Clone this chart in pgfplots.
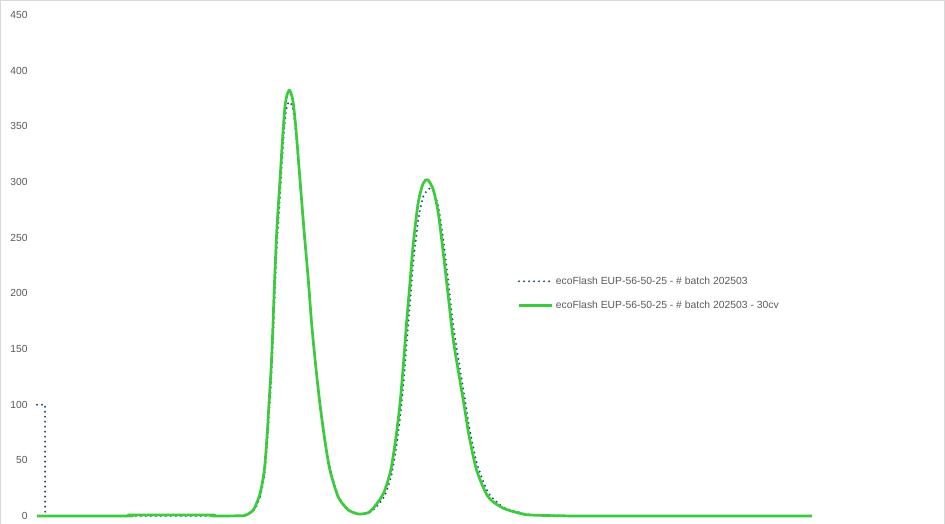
\documentclass[border=0pt]{standalone}
\usepackage{fontspec}
\setmainfont{Liberation Sans}
\usepackage{pgfplots}
\usepackage{pgfplotstable}
\pgfplotsset{compat=1.18}

\definecolor{serblue}{HTML}{1F4E79}
\definecolor{sergreen}{HTML}{3CCB3C}
\definecolor{labgray}{HTML}{595959}
\definecolor{framegray}{HTML}{D9D9D9}

% batch 202503: start step
\pgfplotstableread{
x     y
0     100
8     100
8.2   0
203   0
}\batchAstart

% batch 202503: peaks
\pgfplotstableread{
x     y
203   0
216.3 4.5
223   17
227.3 36
230   64
232   92
234   120
235.7 152
237.3 190
239.7 240
243   288
245.7 328
248   356
250   368
252.3 372
254.3 370
256.3 364
259   343
263   300
267   256
271.3 212
274.7 172
278.7 136
283   102
288   69
293   43
301.3 18
311.3 6
321.3 2
326   2
331.3 2.5
336.3 5.5
346.3 16
353.7 34
359   60
363   88
366.3 118
369.7 156
373   192
376.3 228
381.3 266
386.3 287
392.3 294
396.3 292
401.3 278
406.3 248
411.3 210
416.3 171
422.3 136
427   110
432.3 80
439.7 48
451.3 21
466.3 8
483   3
493   1.2
523   0.3
560   0
775   0
}\batchA

% batch 202503 - 30cv
\pgfplotstableread{
x     y
0     0
92    0
94    0.9
174   0.9
176   0
203   0.2
208   0.5
216.3 5.4
223   20
227.3 41
230   71
232   101
234   131
235.7 165
237.3 205
239.7 255
243   302
245.7 341
248   368
250   378
252.3 382.6
254.3 379
256.3 370.7
259   347
263   302
267   257
271.3 212
274.7 172
278.7 135
283   100
288   67
293   41
301.3 17
311.3 5.4
321.3 1.8
326   2
331.3 3
336.3 7
346.3 20
353.7 41
359   71
363   101
366.3 135
369.7 175
373   210
376.3 245
381.3 282
386.3 299
390.7 302
396.3 293
401.3 272
406.3 236
411.3 197
416.3 158
422.3 125
427   100
432.3 71
439.7 41
451.3 17
466.3 7
483   2.4
493   0.9
523   0.2
560   0
775   0
}\batchB

\begin{document}
\begin{tikzpicture}
\useasboundingbox (0,0) rectangle (945bp,524bp);
\draw[framegray, line width=1bp] (0.5bp,0) -- (0.5bp,523.5bp) -- (944.5bp,523.5bp) -- (944.5bp,0);
\begin{axis}[
  at={(37bp,8bp)}, anchor=south west,
  scale only axis, width=900bp, height=501bp,
  xmin=0, xmax=900, ymin=0, ymax=450,
  xtick=\empty, ytick={0,50,...,450},
  axis line style={draw=none},
  major tick length=0pt,
  clip=false,
  tick label style={font=\fontsize{10.3}{12}\selectfont, text=labgray},
  /pgf/number format/assume math mode=true,
  yticklabel style={xshift=-6bp},
  legend style={at={(0.5339,0.4445)}, anchor=west, draw=none, fill=none,
    font=\fontsize{10.4}{12}\selectfont, text=labgray, inner sep=0pt,
    nodes={inner sep=2.5bp}, row sep=10bp},
  legend cell align=left,
  legend image code/.code={\draw[#1] (0bp,0bp) -- (33bp,0bp);},
]
\addplot[serblue, line width=2.2bp, line cap=round, dash pattern=on 0pt off 5bp, forget plot] table[x=x, y=y] {\batchAstart};
\addplot[serblue, line width=2.2bp, line cap=round, dash pattern=on 0pt off 5bp, smooth, tension=0.45] table[x=x, y=y] {\batchA};
\addlegendentry{ecoFlash EUP-56-50-25 - \# batch 202503}
\addplot[sergreen, line width=2.7bp, line join=round, smooth, tension=0.45] table[x=x, y=y] {\batchB};
\addlegendentry{ecoFlash EUP-56-50-25 - \# batch 202503 - 30cv}
\end{axis}
\end{tikzpicture}
\end{document}
